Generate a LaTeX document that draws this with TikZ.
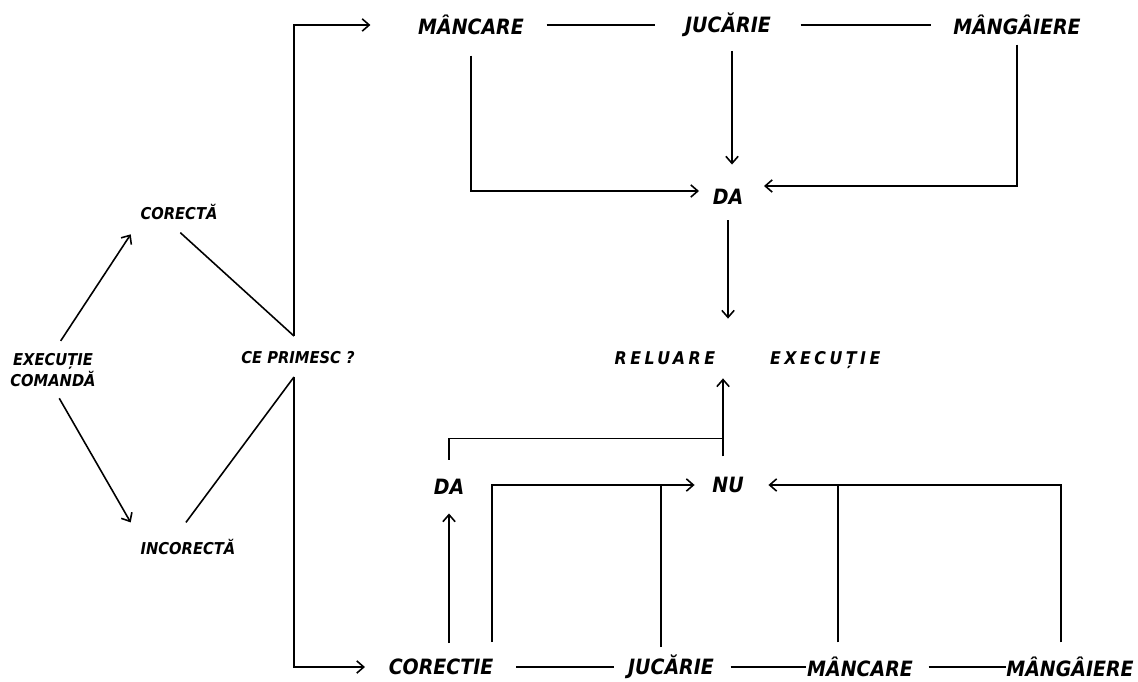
\documentclass[tikz,border=0pt]{standalone}
\usepackage{fontspec}
\usetikzlibrary{arrows.meta,positioning}
\newfontfamily\lblfont{DejaVu Sans Condensed}
\newfontfamily\spacedfont{DejaVu Sans Condensed}[LetterSpace=20]

\begin{document}
\begin{tikzpicture}[>={Straight Barb[length=4pt,width=7pt]},line width=0.9pt,
    lbl/.style={inner sep=0pt,font=\lblfont\bfseries\itshape\fontsize{12}{12}\selectfont},
    mic/.style={inner sep=0pt,align=center,font=\lblfont\bfseries\itshape\fontsize{9.3}{9.3}\selectfont},
    spatiat/.style={inner sep=0pt,font=\spacedfont\bfseries\itshape\fontsize{10}{10}\selectfont}]
    \useasboundingbox (0,0) rectangle (22.76,13.62);

    \node[mic] (execcmd) at (1.06,6.22) {EXECUȚIE\\COMANDĂ};
    \node[mic] (corecta) at (3.58,9.38) {CORECTĂ};
    \node[mic] (incorecta) at (3.76,2.68) {INCORECTĂ};
    \node[mic] (primesc) at (5.96,6.46) {CE PRIMESC ?};
    \coordinate (razsus) at ([xshift=-0.08cm,yshift=0.3cm]primesc.north);
    \coordinate (razjos) at ([xshift=-0.08cm,yshift=-0.24cm]primesc.south);

    \node[lbl] (mancaresus) at (9.42,13.12) {MÂNCARE};
    \node[lbl] (jucariesus) at (14.56,13.12) {JUCĂRIE};
    \node[lbl] (mangairesus) at (20.34,13.12) {MÂNGÂIERE};
    \node[lbl] (dasus) at (14.56,9.68) {DA};

    \node[spatiat] (reluare) at (14.95,6.42) {RELUARE\hspace{1.1cm}EXECUȚIE};

    \node[lbl] (dajos) at (8.98,3.88) {DA};
    \node[lbl] (nujos) at (14.56,3.92) {NU};
    \node[lbl] (corectie) at (8.82,0.28) {CORECTIE};
    \node[lbl] (jucariejos) at (13.42,0.28) {JUCĂRIE};
    \node[lbl] (mancarejos) at (17.20,0.28) {MÂNCARE};
    \node[lbl] (mangairejos) at (21.40,0.28) {MÂNGÂIERE};

    % romb
    \draw[->,shorten <=0.28cm,shorten >=0.33cm] (execcmd.north) to (corecta.south west);
    \draw[shorten <=0.36cm] ([xshift=-0.24cm]corecta.south) to (razsus);
    \draw[->,shorten <=0.25cm,shorten >=0.37cm] (execcmd.south) to (incorecta.north west);
    \draw[shorten <=0.4cm] ([xshift=-0.28cm]incorecta.north) to (razjos);
    \draw[->,shorten >=0.94cm] (razsus) |- (mancaresus.west);
    \draw[->,shorten >=0.46cm] (razjos) |- (corectie.west);

    % sus
    \draw[shorten <=0.44cm,shorten >=0.58cm] (mancaresus.east) to (jucariesus.west);
    \draw[shorten <=0.58cm,shorten >=0.44cm] (jucariesus.east) to (mangairesus.west);
    \draw[->,shorten <=0.4cm,shorten >=0.26cm] (mancaresus.south) |- ([yshift=0.12cm]dasus.west);
    \draw[->,shorten <=0.26cm,shorten >=0.48cm] ([xshift=0.08cm]jucariesus.south) to ([xshift=0.08cm]dasus.north);
    \draw[->,shorten <=0.18cm,shorten >=0.4cm] (mangairesus.south) |- ([yshift=0.22cm]dasus.east);
    \draw[->,shorten <=0.3cm,shorten >=0.64cm] (dasus.south) to (dasus.south |- reluare.north);

    % jos
    \draw[->,shorten <=0.4cm,shorten >=0.18cm] ([xshift=-0.1cm]nujos.north) to ([xshift=-0.1cm]nujos.north |- reluare.south);
    \draw[shorten <=0.38cm] (dajos.north) |- ([xshift=-0.1cm,yshift=0.76cm]nujos.north);
    \draw[->,shorten <=0.3cm,shorten >=0.36cm] (dajos.south |- corectie.north) to (dajos.south);
    \draw[->,shorten <=0.32cm,shorten >=0.34cm] ([xshift=1.02cm]corectie.north) |- (nujos.west);
    \draw[shorten <=0.14cm] ([xshift=-0.2cm]jucariejos.north) to ([xshift=-0.2cm]jucariejos.north |- nujos.west);
    \draw[shorten <=0.28cm] ([xshift=-0.44cm]mancarejos.north) to ([xshift=-0.44cm]mancarejos.north |- nujos.east);
    \draw[->,shorten <=0.28cm,shorten >=0.48cm] ([xshift=-0.18cm]mangairejos.north) |- (nujos.east);
    \draw[shorten <=0.44cm,shorten >=0.26cm] (corectie.east) to (jucariejos.west);
    \draw[shorten <=0.32cm] (jucariejos.east) to (mancarejos.west);
    \draw[shorten <=0.3cm] (mancarejos.east) to (mangairejos.west);

\end{tikzpicture}
\end{document}
